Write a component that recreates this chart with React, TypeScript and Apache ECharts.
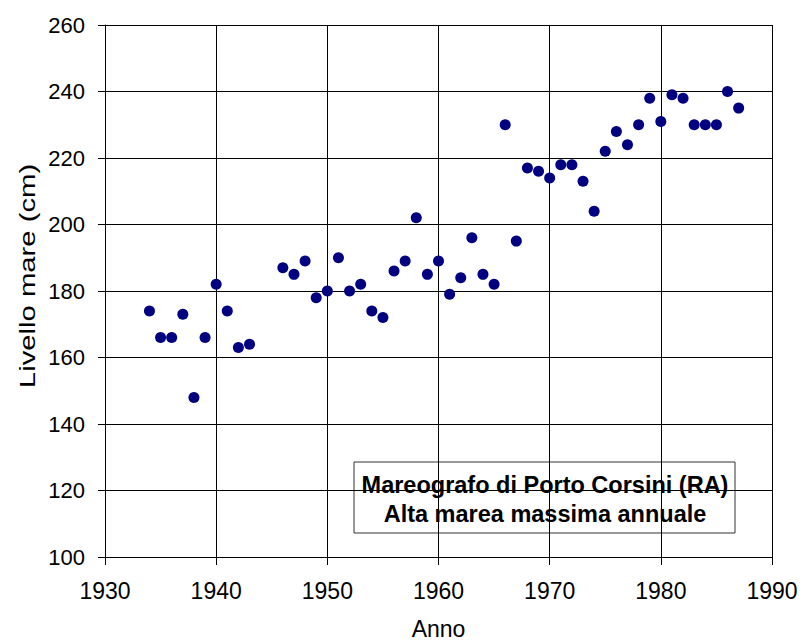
import React, { useEffect, useRef } from "react";
import * as echarts from "echarts";

const years = [
  1934, 1935, 1936, 1937, 1938, 1939, 1940, 1941, 1942, 1943,
  1946, 1947, 1948, 1949, 1950, 1951, 1952, 1953, 1954, 1955,
  1956, 1957, 1958, 1959, 1960, 1961, 1962, 1963, 1964, 1965,
  1966, 1967, 1968, 1969, 1970, 1971, 1972, 1973, 1974, 1975,
  1976, 1977, 1978, 1979, 1980, 1981, 1982, 1983, 1984, 1985,
  1986, 1987,
];
const levels = [
  174, 166, 166, 173, 148, 166, 182, 174, 163, 164,
  187, 185, 189, 178, 180, 190, 180, 182, 174, 172,
  186, 189, 202, 185, 189, 179, 184, 196, 185, 182,
  230, 195, 217, 216, 214, 218, 218, 213, 204, 222,
  228, 224, 230, 238, 231, 239, 238, 230, 230, 230,
  240, 235,
];
const titleLines = ["Mareografo di Porto Corsini (RA)", "Alta marea massima annuale"];
const xAxisName = "Anno";
const yAxisName = "Livello mare (cm)";

const FONT = "'Liberation Sans', Arial, sans-serif";

export default function App() {
  const ref = useRef<HTMLDivElement>(null);
  useEffect(() => {
    document.body.style.margin = "0";
    document.body.style.overflow = "hidden";
    document.documentElement.style.overflow = "hidden";
    const chart = echarts.init(ref.current!, null, { renderer: "svg", width: 802, height: 642 });
    const data = years.map((y, i) => [y, levels[i]]);
    const titleStyle = {
      fontSize: 23.5,
      fontWeight: "bold",
      fontFamily: FONT,
      fill: "#000",
      textAlign: "center",
      textVerticalAlign: "middle",
      verticalAlign: "middle",
    };
    chart.setOption({
      animation: false,
      backgroundColor: "#ffffff",
      textStyle: { fontFamily: FONT },
      grid: {
        left: 105,
        top: 25,
        width: 667,
        height: 532,
        containLabel: false,
        outerBoundsMode: "none",
      },
      xAxis: {
        type: "value",
        min: 1930,
        max: 1990,
        interval: 10,
        name: xAxisName,
        nameLocation: "middle",
        nameGap: 60,
        nameTextStyle: { fontSize: 23, color: "#000", fontFamily: FONT },
        axisLine: { show: true, onZero: false, lineStyle: { color: "#000", width: 1 } },
        axisTick: { show: true, inside: false, length: 8, lineStyle: { color: "#000" } },
        axisLabel: {
          color: "#000",
          fontSize: 23,
          margin: 22,
          fontFamily: FONT,
          formatter: (v: number) => String(v),
        },
        splitLine: { show: true, lineStyle: { color: "#000", width: 1 } },
      },
      yAxis: {
        type: "value",
        min: 100,
        max: 260,
        interval: 20,
        axisLine: { show: true, onZero: false, lineStyle: { color: "#000", width: 1 } },
        axisTick: { show: true, inside: false, length: 7, lineStyle: { color: "#000" } },
        axisLabel: { color: "#000", fontSize: 22, margin: 20, fontFamily: FONT },
        splitLine: { show: true, lineStyle: { color: "#000", width: 1 } },
      },
      series: [
        {
          type: "scatter",
          data,
          symbol: "circle",
          symbolSize: 11,
          itemStyle: { color: "#000080", opacity: 1 },
          z: 5,
        },
      ],
      graphic: [
        {
          type: "text",
          x: 27,
          y: 276,
          rotation: Math.PI / 2,
          scaleX: 1.33,
          scaleY: 1,
          style: {
            text: yAxisName,
            fontSize: 22,
            fontFamily: FONT,
            fill: "#000",
            textAlign: "center",
            textVerticalAlign: "middle",
            verticalAlign: "middle",
          },
        },
        {
          type: "group",
          z: 100,
          children: [
            {
              type: "rect",
              shape: { x: 354, y: 462, width: 381, height: 71 },
              style: { fill: "#ffffff", stroke: "#333", lineWidth: 1 },
            },
            {
              type: "text",
              x: 545,
              y: 485,
              style: { ...titleStyle, text: titleLines[0] },
            },
            {
              type: "text",
              x: 545,
              y: 514,
              style: { ...titleStyle, text: titleLines[1] },
            },
          ],
        },
      ],
    });
    return () => chart.dispose();
  }, []);
  return (
    <div
      ref={ref}
      style={{ width: 802, height: 642, position: "fixed", left: 0, top: 0, overflow: "hidden" }}
    />
  );
}
